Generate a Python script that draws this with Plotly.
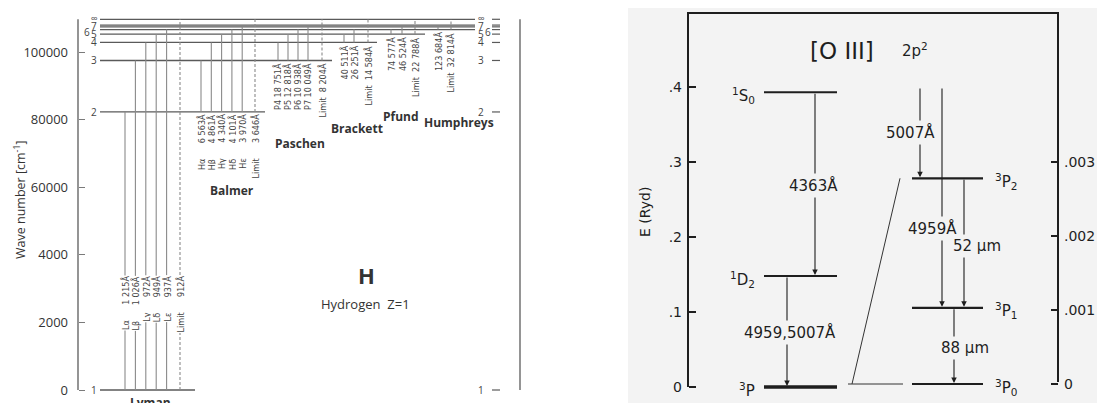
import plotly.graph_objects as go

W, H = 1097, 403

# ---------------- data: hydrogen ----------------
level_names = ["1", "2", "3", "4", "5", "6", "7", "8", "∞"]
level_wavenumber = [0, 82259, 97492, 102824, 105290, 106630, 107440, 107965, 109678]
wn_tick_values = [0, 20000, 40000, 60000, 80000, 100000]
wn_tick_labels = ["0", "2000", "4000", "60000", "80000", "100000"]
ev_tick_labels = ["0", "2.47", "4.94", "7.41", "9.88", "12.34"]

lyman_upper = [2, 3, 4, 5, 6]
lyman_names = ["Lα", "Lβ", "Lγ", "Lδ", "Lε"]
lyman_wl = ["1 215Å", "1 026Å", "972Å", "949Å", "937Å"]
lyman_limit = "912Å"

balmer_upper = [3, 4, 5, 6, 7]
balmer_names = ["Hα", "Hβ", "Hγ", "Hδ", "Hε"]
balmer_wl = ["6 563Å", "4 861Å", "4 340Å", "4 101Å", "3 970Å"]
balmer_limit = "3 646Å"

paschen_upper = [4, 5, 6, 7]
paschen_names = ["P4", "P5", "P6", "P7"]
paschen_wl = ["18 751Å", "12 818Å", "10 938Å", "10 049Å"]
paschen_limit = "8 204Å"

brackett_upper = [5, 6]
brackett_names = ["", ""]
brackett_wl = ["40 511Å", "26 251Å"]
brackett_limit = "14 584Å"

pfund_upper = [6, 7]
pfund_names = ["", ""]
pfund_wl = ["74 577Å", "46 524Å"]
pfund_limit = "22 788Å"

humphreys_upper = [7]
humphreys_names = [""]
humphreys_wl = ["123 684Å"]
humphreys_limit = "32 814Å"

# ---------------- data: [O III] ----------------
o3_coarse_names = ["<sup>3</sup>P", "<sup>1</sup>D<sub>2</sub>", "<sup>1</sup>S<sub>0</sub>"]
o3_coarse_energy = [0.0, 0.148, 0.393]
o3_fine_names = ["<sup>3</sup>P<sub>0</sub>", "<sup>3</sup>P<sub>1</sub>", "<sup>3</sup>P<sub>2</sub>"]
o3_fine_energy = [0.0, 0.00103, 0.00278]
ryd_tick_values = [0, 0.1, 0.2, 0.3, 0.4]
ryd_tick_labels = ["0", ".1", ".2", ".3", ".4"]
fine_tick_values = [0, 0.001, 0.002, 0.003]
fine_tick_labels = ["0", ".001", ".002", ".003"]
coarse_trans_upper = [2, 1]
coarse_trans_lower = [1, 0]
coarse_trans_labels = ["4363Å", "4959,5007Å"]
fine_trans_upper = [None, None, 2, 1]   # None = comes from above (¹D₂)
fine_trans_lower = [2, 1, 1, 0]
fine_trans_labels = ["5007Å", "4959Å", "52 µm", "88 µm"]

# ---------------- layout helpers (pixel -> data) ----------------
def wn_at(py):
    return (390 - py) / 0.00338

def ryd_at(py):
    return (387 - py) / 750.0

def fine_at(py):
    return (384 - py) / 74000.0

E = dict(zip(range(1, 9), level_wavenumber[:8]))
E_INF = level_wavenumber[-1]

LEFT_GRAY = "#7a7a7a"
LINE_GRAY = "#8a8a8a"
TXT = "#333333"
HFONT = "Open Sans, Noto Sans, sans-serif"
NARROW = "DejaVu Sans Condensed, Liberation Sans Narrow, Open Sans, sans-serif"
OFONT = "DejaVu Sans, Liberation Sans, sans-serif"
O_INK = "#1e1e1e"
GAP = "\u00a0" * 6

fig = go.Figure()
ann = []

# ---------- left panel: axes lines ----------
fig.add_trace(go.Scatter(x=[78, 78, None, 520, 520], y=[0, E_INF, None, 0, E_INF],
                         mode="lines", line=dict(color=LEFT_GRAY, width=1.6),
                         xaxis="x", yaxis="y", hoverinfo="skip", showlegend=False))

# level lines
level_end = {1: 195, 2: 265, 3: 332, 4: 377, 5: 425, 6: 475, 7: 475, 8: 475, 9: 475}
lx, ly, dx, dy = [], [], [], []
for i, e in enumerate(level_wavenumber):
    lx += [100, level_end[i + 1], None]
    ly += [e, e, None]
    dx += [492, 500, None]
    dy += [e, e, None]
fig.add_trace(go.Scatter(x=lx, y=ly, mode="lines", line=dict(color="#5a5a5a", width=1.3),
                         xaxis="x", yaxis="y", hoverinfo="skip", showlegend=False))
fig.add_trace(go.Scatter(x=dx, y=dy, mode="lines", line=dict(color="#5a5a5a", width=1.2),
                         xaxis="x", yaxis="y", hoverinfo="skip", showlegend=False))

# level labels
left_lab_style = {"6": dict(xs=-7, ys=-2), "7": dict(xs=0, ys=1), "∞": dict(xs=0, ys=1)}
for name, e in zip(level_names, level_wavenumber):
    if name == "8":
        continue
    st = left_lab_style.get(name, dict(xs=0, ys=0))
    ann.append(dict(x=94, y=e, xref="x", yref="y", text=name, showarrow=False,
                    xshift=st["xs"], yshift=st["ys"],
                    font=dict(family=HFONT, size=10, color="#444")))
    ann.append(dict(x=481, y=e, xref="x", yref="y", text=name, showarrow=False,
                    xshift=-st["xs"], yshift=st["ys"],
                    font=dict(family=HFONT, size=10, color="#444")))

# series
series = [
    dict(name="Lyman", lower=1, upper=lyman_upper, names=lyman_names, wl=lyman_wl, lim=lyman_limit,
         x0=125, step=10.4, xlim=180, mode="split", wl_top=275, title=(150, 402)),
    dict(name="Balmer", lower=2, upper=balmer_upper, names=balmer_names, wl=balmer_wl, lim=balmer_limit,
         x0=201, step=10.3, xlim=255, mode="split", wl_top=113, title=(232, 190)),
    dict(name="Paschen", lower=3, upper=paschen_upper, names=paschen_names, wl=paschen_wl, lim=paschen_limit,
         x0=278, step=10.0, xlim=322, mode="joined", title=(300, 143)),
    dict(name="Brackett", lower=4, upper=brackett_upper, names=brackett_names, wl=brackett_wl, lim=brackett_limit,
         x0=344, step=10.0, xlim=368, mode="joined", title=(357, 128)),
    dict(name="Pfund", lower=5, upper=pfund_upper, names=pfund_names, wl=pfund_wl, lim=pfund_limit,
         x0=391, step=11.0, xlim=415, mode="joined", title=(401, 116)),
    dict(name="Humphreys", lower=6, upper=humphreys_upper, names=humphreys_names, wl=humphreys_wl,
         lim=humphreys_limit, x0=438, step=10.0, xlim=451, mode="joined", title=(459, 122)),
]

tx, ty, qx, qy = [], [], [], []
for s in series:
    elow = E[s["lower"]]
    xs = [s["x0"] + k * s["step"] for k in range(len(s["upper"]))]
    for xv, up in zip(xs, s["upper"]):
        tx += [xv, xv, None]
        ty += [elow, E[up], None]
    qx += [s["xlim"], s["xlim"], None]
    qy += [elow, E_INF, None]
    all_x = xs + [s["xlim"]]
    all_names = s["names"] + ["Limit"]
    all_wl = s["wl"] + [s["lim"]]
    for xv, nm, wl in zip(all_x, all_names, all_wl):
        if s["mode"] == "split":
            txt = nm + GAP + wl
            ann.append(dict(x=xv, y=wn_at(s["wl_top"]), xref="x", yref="y", text=txt, showarrow=False,
                            textangle=-90, yanchor="top", bgcolor="white", borderpad=0,
                            font=dict(family=NARROW, size=9, color="#444")))
        else:
            txt = (nm + " " + wl) if nm else wl
            if nm == "Limit":
                txt = nm + "\u00a0\u00a0" + wl
            ann.append(dict(x=xv, y=elow, xref="x", yref="y", text=txt, showarrow=False,
                            textangle=-90, yanchor="top", yshift=-2, bgcolor="white", borderpad=0,
                            font=dict(family=NARROW, size=9, color="#444")))
    ann.append(dict(x=s["title"][0], y=wn_at(s["title"][1]), xref="x", yref="y",
                    text="<b>" + s["name"] + "</b>", showarrow=False,
                    font=dict(family=HFONT, size=12, color="#333")))

fig.add_trace(go.Scatter(x=tx, y=ty, mode="lines", line=dict(color=LINE_GRAY, width=1.1),
                         xaxis="x", yaxis="y", hoverinfo="skip", showlegend=False))
fig.add_trace(go.Scatter(x=qx, y=qy, mode="lines", line=dict(color=LINE_GRAY, width=1.1, dash="3px,2px"),
                         xaxis="x", yaxis="y", hoverinfo="skip", showlegend=False))

ann.append(dict(x=366, y=wn_at(275), xref="x", yref="y", text="<b>H</b>", showarrow=False,
                font=dict(family=HFONT, size=22, color="#333")))
ann.append(dict(x=365, y=wn_at(304), xref="x", yref="y", text="Hydrogen  Z=1", showarrow=False,
                font=dict(family=HFONT, size=13, color="#333")))
ann.append(dict(x=20, y=wn_at(200), xref="x", yref="y", text="Wave number [cm<sup>-1</sup>]",
                showarrow=False, textangle=-90, font=dict(family=HFONT, size=12.5, color="#333")))
ann.append(dict(x=570, y=wn_at(207), xref="x", yref="y", text="[eV]",
                showarrow=False, textangle=-90, font=dict(family=HFONT, size=12, color="#333")))

# ---------- right panel ----------
fig.add_trace(go.Scatter(x=[688, 688, 1058, 1058], y=[ryd_at(387), ryd_at(13), ryd_at(13), ryd_at(382)],
                         mode="lines", line=dict(color=O_INK, width=2),
                         xaxis="x2", yaxis="y3", hoverinfo="skip", showlegend=False))
for nm, e in zip(o3_coarse_names, o3_coarse_energy):
    fig.add_trace(go.Scatter(x=[764, 837], y=[e, e], mode="lines",
                             line=dict(color=O_INK, width=3.5 if e == 0 else 2.2),
                             xaxis="x2", yaxis="y3", hoverinfo="skip", showlegend=False))
    ann.append(dict(x=757, y=e, xref="x2", yref="y3", text=nm, showarrow=False, xanchor="right",
                    yshift=-3, font=dict(family=OFONT, size=15, color=O_INK)))
for nm, e in zip(o3_fine_names, o3_fine_energy):
    fig.add_trace(go.Scatter(x=[912, 983], y=[e, e], mode="lines",
                             line=dict(color=O_INK, width=2.2),
                             xaxis="x2", yaxis="y4", hoverinfo="skip", showlegend=False))
    ann.append(dict(x=993, y=e, xref="x2", yref="y4", text=nm, showarrow=False, xanchor="left",
                    yshift=-3, font=dict(family=OFONT, size=15, color=O_INK)))
fig.add_trace(go.Scatter(x=[848, 903, None, 852, 900],
                         y=[o3_fine_energy[0], o3_fine_energy[0], None, o3_fine_energy[0], o3_fine_energy[2]],
                         mode="lines", line=dict(color="#333", width=1),
                         xaxis="x2", yaxis="y4", hoverinfo="skip", showlegend=False))

BG = "#f3f3f3"
coarse_x = [815, 787]
coarse_lab = [(813, 185), (790, 332)]
for xv, up, lo, lab, (lxp, lyp) in zip(coarse_x, coarse_trans_upper, coarse_trans_lower,
                                      coarse_trans_labels, coarse_lab):
    ann.append(dict(x=xv, y=o3_coarse_energy[lo], ax=xv, ay=o3_coarse_energy[up],
                    xref="x2", yref="y3", axref="x2", ayref="y3", text="", showarrow=True,
                    arrowhead=2, arrowsize=1, arrowwidth=1.1, arrowcolor=O_INK, standoff=1))
    ann.append(dict(x=lxp, y=ryd_at(lyp), xref="x2", yref="y3", text=lab, showarrow=False,
                    bgcolor=BG, borderpad=2, font=dict(family=OFONT, size=15, color=O_INK)))
fine_x = [920, 942, 964, 954]
fine_lab = [(910, 132), (932, 228), (977, 246), (965, 348)]
for xv, up, lo, lab, (lxp, lyp) in zip(fine_x, fine_trans_upper, fine_trans_lower,
                                      fine_trans_labels, fine_lab):
    ytop = fine_at(87) if up is None else o3_fine_energy[up]
    ann.append(dict(x=xv, y=o3_fine_energy[lo], ax=xv, ay=ytop,
                    xref="x2", yref="y4", axref="x2", ayref="y4", text="", showarrow=True,
                    arrowhead=2, arrowsize=1, arrowwidth=1.1, arrowcolor=O_INK, standoff=1))
    ann.append(dict(x=lxp, y=fine_at(lyp), xref="x2", yref="y4", text=lab, showarrow=False,
                    bgcolor=BG, borderpad=2, font=dict(family=OFONT, size=15, color=O_INK)))

ann.append(dict(x=842, y=ryd_at(51), xref="x2", yref="y3", text="[O\u00a0III]", showarrow=False,
                font=dict(family=OFONT, size=23, color=O_INK)))
ann.append(dict(x=915, y=ryd_at(50), xref="x2", yref="y3", text="2p<sup>2</sup>", showarrow=False,
                font=dict(family=OFONT, size=15, color=O_INK)))
ann.append(dict(x=645, y=ryd_at(212), xref="x2", yref="y3", text="E (Ryd)", showarrow=False,
                textangle=-90, font=dict(family=OFONT, size=14, color=O_INK)))

fig.update_layout(
    width=W, height=H, autosize=False,
    margin=dict(l=0, r=0, t=0, b=0),
    paper_bgcolor="white", plot_bgcolor="rgba(0,0,0,0)",
    showlegend=False,
    xaxis=dict(domain=[0, 560 / W], range=[0, 560], visible=False, anchor="y", fixedrange=True),
    yaxis=dict(domain=[0, 1], range=[wn_at(H), wn_at(0)], anchor="free", position=78 / W,
               showline=False, showgrid=False, zeroline=False,
               tickmode="array", tickvals=wn_tick_values, ticktext=wn_tick_labels,
               ticks="inside", ticklen=6, tickwidth=1.4, tickcolor=LEFT_GRAY, ticklabelstandoff=10,
               tickfont=dict(family=HFONT, size=13, color=TXT)),
    yaxis2=dict(overlaying="y", side="right", range=[wn_at(H), wn_at(0)], anchor="free", position=520 / W,
                showline=False, showgrid=False, zeroline=False,
                tickmode="array", tickvals=wn_tick_values, ticktext=ev_tick_labels,
                ticks="inside", ticklen=6, tickwidth=1.4, tickcolor=LEFT_GRAY, ticklabelstandoff=-5,
                tickfont=dict(family=HFONT, size=12, color=TXT)),
    xaxis2=dict(domain=[560 / W, 1], range=[560, W], visible=False, anchor="y3", fixedrange=True),
    yaxis3=dict(domain=[0, 1], range=[ryd_at(H), ryd_at(0)], anchor="free", position=688 / W,
                showline=False, showgrid=False, zeroline=False,
                tickmode="array", tickvals=ryd_tick_values, ticktext=ryd_tick_labels,
                ticks="inside", ticklen=7, tickwidth=2, tickcolor=O_INK, ticklabelstandoff=6,
                tickfont=dict(family=OFONT, size=14, color=O_INK)),
    yaxis4=dict(overlaying="y3", side="right", range=[fine_at(H), fine_at(0)], anchor="free",
                position=1058 / W, showline=False, showgrid=False, zeroline=False,
                tickmode="array", tickvals=fine_tick_values, ticktext=fine_tick_labels,
                ticks="inside", ticklen=7, tickwidth=2, tickcolor=O_INK, ticklabelstandoff=5,
                tickfont=dict(family=OFONT, size=14, color=O_INK)),
    shapes=[dict(type="rect", xref="paper", yref="paper", x0=628 / W, x1=1, y0=0, y1=(H - 8) / H,
                 fillcolor=BG, line=dict(width=0), layer="below")],
    annotations=ann,
)

fig.write_html("out.html", config={"displayModeBar": False},
               post_script="document.body.style.margin='0px';document.body.style.overflow='hidden';")
